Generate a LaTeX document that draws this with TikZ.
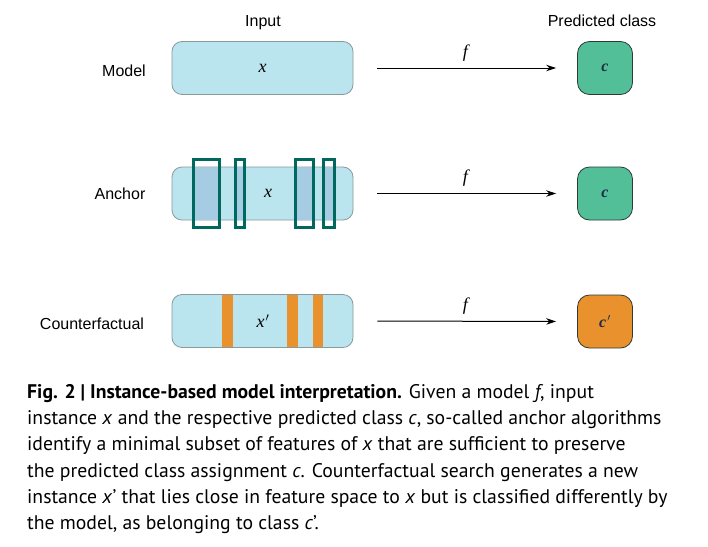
\documentclass[tikz,border=0pt]{standalone}
\usepackage{fontspec}
\setmainfont{Liberation Sans}
\newfontfamily\capfont{PT Sans}
\newfontfamily\varfont{Liberation Serif}
\usetikzlibrary{arrows.meta}

\definecolor{inputblue}{HTML}{BAE4EE}
\definecolor{anchorblue}{HTML}{A5CCE3}
\definecolor{anchorteal}{HTML}{00685E}
\definecolor{boxgray}{HTML}{8A9A9E}
\definecolor{classgreen}{HTML}{52BF98}
\definecolor{classorange}{HTML}{E8912D}
\definecolor{classedge}{HTML}{2F3A38}
\definecolor{classtext}{HTML}{1F2A44}

\newcommand{\var}[1]{{\varfont\itshape #1}}

\tikzset{
  rowlabel/.style={font=\fontsize{16}{19}\selectfont, anchor=base},
  inbox/.style={draw=boxgray, fill=inputblue, rounded corners=10pt, line width=0.8pt,
    minimum width=181pt, minimum height=53pt, inner sep=0pt, font=\fontsize{18}{20}\selectfont},
  classbox/.style={draw=classedge, rounded corners=12pt, line width=0.8pt,
    minimum width=55pt, minimum height=53pt, inner sep=0pt, text=classtext,
    font=\fontsize{16}{18}\selectfont\bfseries},
  anchorbar/.style={draw=anchorteal, line width=3pt},
  arr/.style={-{Stealth[length=10pt,width=6.5pt]}, line width=1pt, shorten <=24pt, shorten >=21pt},
  flabel/.style={font=\fontsize{18}{20}\selectfont}
}

\begin{document}
\begin{tikzpicture}[x=1pt,y=-1pt]
  \useasboundingbox[fill=white] (0,0) rectangle (708,546);
  % column heads
  \node[rowlabel] (headin) at (263,26.5) {Input};
  \node[rowlabel] (headout) at (602,26.5) {Predicted class};
  % model row
  \node[rowlabel] (lmodel) at (124,76) {Model};
  \node[inbox] (in1) at (262.5,68) {\var{x}};
  \node[classbox, fill=classgreen] (out1) at (605,68) {\var{c}};
  \draw[arr] (in1.east) -- (out1.west) node[midway, above=3pt, flabel] (f1) {\var{f}};
  % anchor row
  \node[rowlabel] (lanchor) at (120,199) {Anchor};
  \node[inbox] (in2) at (262.5,193.5) {};
  \foreach \l/\r in {193.5/219.5, 235.5/244.5, 295.5/313.5, 323.5/334.5} {
    \fill[anchorblue] (\l,167.5) rectangle (\r,219.5);
    \draw[anchorbar] (\l,159.5) rectangle (\r,227.5);
  }
  \node[flabel] (x2) at (268,193.5) {\var{x}};
  \node[classbox, fill=classgreen] (out2) at (605,193.5) {\var{c}};
  \draw[arr] (in2.east) -- (out2.west) node[midway, above=3pt, flabel] (f2) {\var{f}};
  % counterfactual row
  \node[rowlabel] (lcounter) at (92,329) {Counterfactual};
  \node[inbox] (in3) at (262.5,321) {};
  \foreach \l/\r in {222/233, 287/298, 313/323}
    \fill[classorange] (\l,295) rectangle (\r,347);
  \node[flabel] (x3) at (263,321) {\var{x}\kern1pt$'$};
  \node[classbox, fill=classorange] (out3) at (605,321.5) {\var{c}\kern1pt$'$};
  \draw[arr] (in3.east) -- (out3.west) node[midway, above=3pt, flabel] (f3) {\var{f}};
  % caption
  \node[anchor=north west, align=left, inner sep=0pt,
        font=\capfont\fontsize{19.7}{26.3}\selectfont] (caption) at (27,384)
    {\textbf{Fig. 2 | Instance-based model interpretation.} Given a model \textit{f}, input\\
     instance \textit{x} and the respective predicted class \textit{c}, so-called anchor algorithms\\
     identify a minimal subset of features of \textit{x} that are sufficient to preserve\\
     the predicted class assignment \textit{c}. Counterfactual search generates a new\\
     instance \textit{x}’ that lies close in feature space to \textit{x} but is classified differently by\\
     the model, as belonging to class \textit{c}’.};
\end{tikzpicture}
\end{document}
